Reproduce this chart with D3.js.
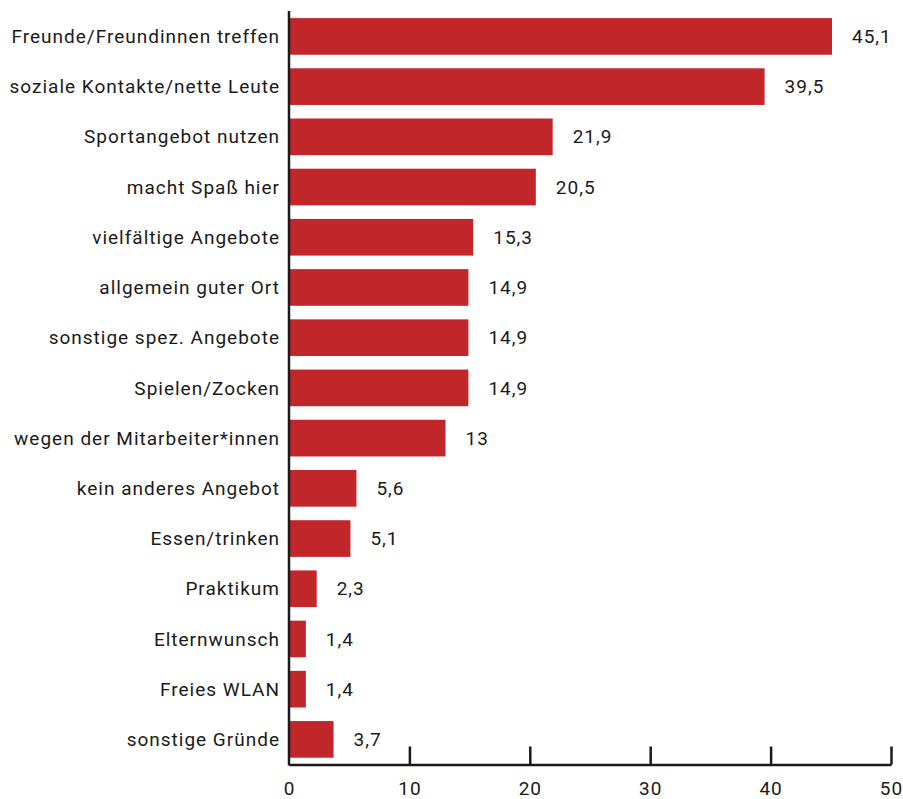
<!DOCTYPE html>
<html>
<head>
<meta charset="utf-8">
<script src="https://cdn.jsdelivr.net/npm/d3@7"></script>
<style>
	body { margin: 0; background: #fff; }
	svg text { font-family: Roboto, "Noto Sans", sans-serif; fill: #1a1a1a; letter-spacing: 1px; }
</style>
</head>
<body>
<svg id="chart" width="903" height="799"></svg>
<script>
const categories = [
	'Freunde/Freundinnen treffen',
	'soziale Kontakte/nette Leute',
	'Sportangebot nutzen',
	'macht Spaß hier',
	'vielfältige Angebote',
	'allgemein guter Ort',
	'sonstige spez. Angebote',
	'Spielen/Zocken',
	'wegen der Mitarbeiter*innen',
	'kein anderes Angebot',
	'Essen/trinken',
	'Praktikum',
	'Elternwunsch',
	'Freies WLAN',
	'sonstige Gründe'
];
const values = [45.1, 39.5, 21.9, 20.5, 15.3, 14.9, 14.9, 14.9, 13, 5.6, 5.1, 2.3, 1.4, 1.4, 3.7];
const tickValues = [0, 10, 20, 30, 40, 50];

const data = categories.map((c, i) => ({ label: c, value: values[i] }));

const X0 = 289;
const X1 = 891;
const AXIS_Y = 764.5;
const TOP = 11.3;
const FONT = 19;
const BAR_COLOR = '#c0262a';
const fmt = d3.format('.1f');

const $svg = d3.select('#chart');

const x = d3.scaleLinear().domain([0, 50]).range([X0, X1]);
const y = d3.scaleBand()
	.domain(categories)
	.range([TOP, AXIS_Y])
	.paddingInner(0.27)
	.paddingOuter(0.135);

// bars
$svg.append('g')
	.selectAll('rect')
	.data(data)
	.join('rect')
	.attr('x', x(0))
	.attr('y', d => y(d.label))
	.attr('width', d => x(d.value) - x(0))
	.attr('height', y.bandwidth())
	.attr('fill', BAR_COLOR);

// value labels
$svg.append('g')
	.selectAll('text')
	.data(data)
	.join('text')
	.attr('x', d => x(d.value) + 20)
	.attr('y', d => y(d.label) + y.bandwidth() / 2)
	.attr('dy', '0.35em')
	.attr('font-size', FONT)
	.text(d => (Number.isInteger(d.value) ? d.value : fmt(d.value)).toString().replace('.', ','));

// category labels
$svg.append('g')
	.selectAll('text')
	.data(data)
	.join('text')
	.attr('x', X0 - 9)
	.attr('y', d => y(d.label) + y.bandwidth() / 2)
	.attr('dy', '0.35em')
	.attr('text-anchor', 'end')
	.attr('font-size', FONT)
	.text(d => d.label);

// x axis
const axis = d3.axisBottom(x)
	.tickValues(tickValues)
	.tickSize(0)
	.tickPadding(17);

const $axis = $svg.append('g')
	.attr('transform', `translate(0,${AXIS_Y})`)
	.call(axis);
$axis.select('.domain').attr('stroke', '#1a1a1a').attr('stroke-width', 2.5);
$axis.selectAll('.tick text')
	.attr('font-size', FONT)
	.attr('fill', '#1a1a1a')
	.attr('font-family', 'Roboto, sans-serif');
$axis.selectAll('.tick')
	.filter(d => d > 0)
	.append('line')
	.attr('y1', 0)
	.attr('y2', -18)
	.attr('stroke', '#1a1a1a')
	.attr('stroke-width', 2.5);

// y axis line
$svg.append('line')
	.attr('x1', X0)
	.attr('x2', X0)
	.attr('y1', 11)
	.attr('y2', AXIS_Y + 1)
	.attr('stroke', '#1a1a1a')
	.attr('stroke-width', 2.5);
</script>
</body>
</html>
